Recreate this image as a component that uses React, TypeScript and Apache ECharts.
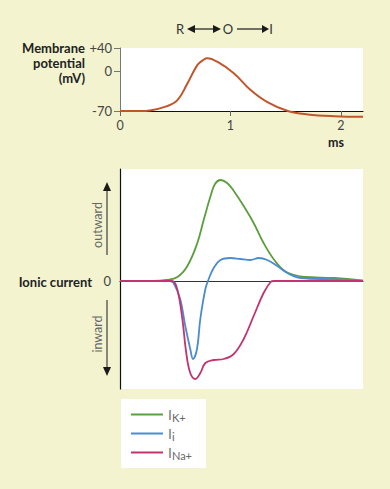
import React, { useEffect, useRef } from "react";
import * as echarts from "echarts";

const BG = "#f3f4cf";
const FONT = "Lato, 'Noto Sans', 'DejaVu Sans', sans-serif";

// Membrane potential (mV) vs time (ms)
const vmTime = [0, 0.18, 0.27, 0.42, 0.52, 0.61, 0.7, 0.76, 0.79, 0.88, 1.03, 1.18, 1.33, 1.52, 1.7, 1.94, 2.2];
const vmValues = [-70, -70, -69, -62, -51, -22, 10, 20, 22, 16, -4, -33, -54, -70, -76, -79, -80];

// Ionic currents (arbitrary units, outward positive)
const kTime = [0, 0.3, 0.42, 0.52, 0.61, 0.7, 0.76, 0.82, 0.86, 0.91, 0.97, 1.03, 1.12, 1.21, 1.3, 1.39, 1.49, 1.58, 1.67, 1.94, 2.2];
const kValues = [0, 0, 1, 4, 15, 38, 62, 85, 97, 101, 98, 90, 75, 58, 38, 22, 10, 6, 4, 3, 0.3];

const iTime = [0, 0.45, 0.485, 0.545, 0.591, 0.636, 0.661, 0.697, 0.727, 0.773, 0.803, 0.848, 0.909, 1.0, 1.09, 1.18, 1.257, 1.333, 1.424, 1.515, 1.636, 1.94, 2.2];
const iValues = [0, 0, -2, -18, -45, -68, -78, -68, -38, -8, 2, 13, 21, 23, 22, 21, 23, 21, 15, 8, 3, 1.7, 0.3];

const naTime = [0, 0.47, 0.515, 0.561, 0.6, 0.636, 0.682, 0.727, 0.773, 0.848, 0.939, 1.03, 1.12, 1.21, 1.3, 1.364, 1.394, 2.2];
const naValues = [0, 0, -7, -35, -72, -92, -98, -92, -82, -79, -78, -73, -58, -35, -12, -1, 0, 0];

const vmTicks = [-70, 0, 40];
const timeTicks = [0, 1, 2];
const seriesNames = ["IK+", "Ii", "INa+"];
const legendLabels: Record<string, string> = {
  "IK+": "{i|I}{s|K+}",
  "Ii": "{i|I}{s|i}",
  "INa+": "{i|I}{s|Na+}",
};

const pair = (t: number[], v: number[]) => t.map((x, i) => [x, v[i]]);

export default function App() {
  const ref = useRef<HTMLDivElement>(null);
  useEffect(() => {
    const chart = echarts.init(ref.current!, null, { renderer: "svg" });
    const arrowColor = "#1a1a1a";
    const bold = `bold 13px ${FONT}`;
    chart.setOption({
      animation: false,
      backgroundColor: BG,
      textStyle: { fontFamily: FONT },
      grid: [
        { left: 120, top: 48, width: 243, height: 63, show: true, backgroundColor: "#fff", borderWidth: 0 },
        { left: 120, top: 169, width: 243, height: 220, show: true, backgroundColor: "#fff", borderWidth: 0 },
      ],
      xAxis: [
        {
          gridIndex: 0, type: "value", min: 0, max: 2.2,
          axisLine: { onZero: false, lineStyle: { color: "#111", width: 1.2 } },
          axisTick: { show: true, length: 5, customValues: timeTicks, lineStyle: { color: "#666" } },
          axisLabel: { customValues: timeTicks, color: "#444", fontSize: 12.5, lineHeight: 11, margin: 9, fontFamily: FONT },
          splitLine: { show: false },
        },
        {
          gridIndex: 1, type: "value", min: 0, max: 2.2,
          axisLine: { onZero: true, lineStyle: { color: "#333", width: 1.2 } },
          axisTick: { show: false }, axisLabel: { show: false }, splitLine: { show: false },
        },
      ],
      yAxis: [
        {
          gridIndex: 0, type: "value", min: -70, max: 40,
          axisLine: { show: true, lineStyle: { color: "#777", width: 1 } },
          axisTick: { show: true, length: 6, customValues: vmTicks, lineStyle: { color: "#777" } },
          axisLabel: {
            customValues: vmTicks, color: "#444", fontSize: 13, margin: 8, fontFamily: FONT,
            formatter: (v: number) => (v > 0 ? "+" + v : String(v)),
          },
          splitLine: { show: false },
        },
        {
          gridIndex: 1, type: "value", min: -108, max: 112,
          axisLine: { show: true, onZero: false, lineStyle: { color: "#111", width: 1.2 } },
          axisTick: { show: false },
          axisLabel: { customValues: [0], color: "#444", fontSize: 13, margin: 9, fontFamily: FONT },
          splitLine: { show: false },
        },
      ],
      legend: {
        data: seriesNames,
        orient: "vertical",
        left: 121, top: 399,
        padding: [7, 14, 7, 10],
        itemGap: 2,
        itemWidth: 32, itemHeight: 2,
        icon: "rect",
        backgroundColor: "#fff",
        formatter: (n: string) => legendLabels[n],
        textStyle: {
          color: "#666",
          rich: {
            i: { fontSize: 14, color: "#777", fontFamily: FONT, lineHeight: 18 },
            s: { fontSize: 11, color: "#666", fontFamily: FONT, padding: [6, 0, 0, 0], lineHeight: 18 },
          },
        },
      },
      series: [
        {
          name: "Vm", type: "line", xAxisIndex: 0, yAxisIndex: 0, data: pair(vmTime, vmValues),
          smooth: 0.4, showSymbol: false, clip: false,
          lineStyle: { color: "#c1562c", width: 2 }, itemStyle: { color: "#c1562c" },
        },
        {
          name: "IK+", type: "line", xAxisIndex: 1, yAxisIndex: 1, data: pair(kTime, kValues),
          smooth: 0.4, showSymbol: false,
          lineStyle: { color: "#5c9e3c", width: 1.8 }, itemStyle: { color: "#5c9e3c" },
        },
        {
          name: "Ii", type: "line", xAxisIndex: 1, yAxisIndex: 1, data: pair(iTime, iValues),
          smooth: 0.4, showSymbol: false,
          lineStyle: { color: "#4a8cd0", width: 1.8 }, itemStyle: { color: "#4a8cd0" },
        },
        {
          name: "INa+", type: "line", xAxisIndex: 1, yAxisIndex: 1, data: pair(naTime, naValues),
          smooth: 0.4, showSymbol: false,
          lineStyle: { color: "#c2336f", width: 1.8 }, itemStyle: { color: "#c2336f" },
        },
      ],
      graphic: [
        { type: "text", x: 85, y: 48, style: { text: "Membrane", align: "right", verticalAlign: "middle", lineHeight: 14, font: bold, fill: "#222" } },
        { type: "text", x: 85, y: 63, style: { text: "potential", align: "right", verticalAlign: "middle", lineHeight: 14, font: bold, fill: "#222" } },
        { type: "text", x: 85, y: 78, style: { text: "(mV)", align: "right", verticalAlign: "middle", lineHeight: 14, font: bold, fill: "#222" } },
        { type: "text", x: 92, y: 282, style: { text: "Ionic current", align: "right", verticalAlign: "middle", font: bold, fill: "#222" } },
        { type: "text", x: 336, y: 142, style: { text: "ms", align: "center", verticalAlign: "middle", lineHeight: 10, font: `bold 12.5px ${FONT}`, fill: "#222" } },
        {
          type: "text", x: 97, y: 225, rotation: Math.PI / 2,
          style: { text: "outward", align: "center", verticalAlign: "middle", font: `12.5px ${FONT}`, fill: "#666" },
        },
        {
          type: "text", x: 97, y: 334, rotation: Math.PI / 2,
          style: { text: "inward", align: "center", verticalAlign: "middle", font: `12.5px ${FONT}`, fill: "#666" },
        },
        { type: "line", shape: { x1: 107, y1: 190, x2: 107, y2: 255 }, style: { stroke: arrowColor, lineWidth: 1 } },
        { type: "polygon", shape: { points: [[103, 191], [111, 191], [107, 182]] }, style: { fill: arrowColor } },
        { type: "line", shape: { x1: 107, y1: 300, x2: 107, y2: 368 }, style: { stroke: arrowColor, lineWidth: 1 } },
        { type: "polygon", shape: { points: [[103, 367], [111, 367], [107, 376]] }, style: { fill: arrowColor } },
        // R <-> O -> I
        { type: "text", x: 180, y: 29, style: { text: "R", align: "center", verticalAlign: "middle", font: `13px ${FONT}`, fill: "#333" } },
        { type: "polygon", shape: { points: [[187, 29], [195, 25], [195, 33]] }, style: { fill: arrowColor } },
        { type: "line", shape: { x1: 194, y1: 29, x2: 214, y2: 29 }, style: { stroke: arrowColor, lineWidth: 1.2 } },
        { type: "polygon", shape: { points: [[213, 25], [213, 33], [221, 29]] }, style: { fill: arrowColor } },
        { type: "text", x: 228, y: 29, style: { text: "O", align: "center", verticalAlign: "middle", font: `13px ${FONT}`, fill: "#333" } },
        { type: "line", shape: { x1: 237, y1: 29, x2: 263, y2: 29 }, style: { stroke: arrowColor, lineWidth: 1.2 } },
        { type: "polygon", shape: { points: [[262, 25], [262, 33], [269, 29]] }, style: { fill: arrowColor } },
        { type: "text", x: 271, y: 29, style: { text: "I", align: "center", verticalAlign: "middle", font: `13px ${FONT}`, fill: "#333" } },
      ],
    });
    return () => chart.dispose();
  }, []);
  return <div ref={ref} style={{ position: "fixed", left: 0, top: 0, width: 390, height: 489 }} />;
}
